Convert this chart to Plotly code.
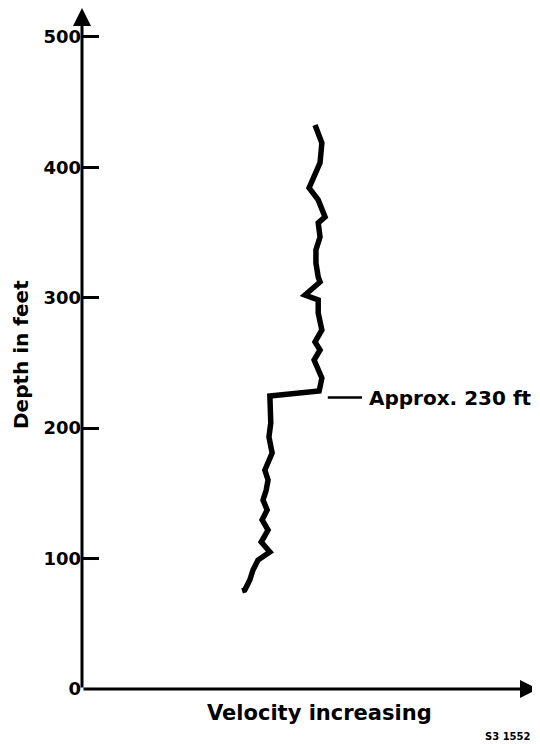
import plotly.graph_objects as go

# Depth (ft) and relative velocity (arbitrary units, 0-100 along the x axis)
depth_ft = [432.5, 418.7, 403.4, 392.6, 384.2, 375.0, 362.0, 357.4, 346.6, 336.7,
            326.7, 315.9, 312.1, 302.1, 298.3, 288.3, 275.3, 266.1, 260.0, 252.3,
            244.6, 238.5, 231.6, 228.5, 224.7,
            211.7, 204.0, 193.3, 181.0, 167.9, 160.3, 152.6, 144.9, 137.3, 129.6,
            121.9, 112.7, 105.1, 98.9, 91.3, 83.6, 75.9, 75.2]
velocity = [51.1, 52.6, 52.2, 50.7, 49.8, 51.8, 53.3, 51.8, 52.2, 51.3,
            51.3, 51.8, 52.2, 48.9, 51.8, 51.8, 52.6, 51.1, 52.2, 50.9,
            51.8, 52.6, 52.2, 52.0, 41.2,
            41.2, 41.4, 41.0, 41.7, 40.1, 40.8, 40.4, 39.7, 40.6, 39.5,
            40.8, 39.3, 41.2, 38.6, 37.5, 36.8, 35.7, 35.1]

ytick_vals = [0, 100, 200, 300, 400, 500]
ytick_text = ["0", "100", "200", "300", "400", "500"]

x_title = "Velocity increasing"
y_title = "Depth in feet"
callout_text = "Approx. 230 ft"
callout_depth = 223.5
callout_x = [53.9, 61.4]
fig_id = "S3 1552"

X_MAX = 100
Y_MAX = 522.2
FONT = "DejaVu Sans, Liberation Sans, Arial, sans-serif"

fig = go.Figure()
fig.add_trace(go.Scatter(
    x=velocity, y=depth_ft, mode="lines",
    line=dict(color="black", width=5.5),
    hoverinfo="skip", showlegend=False,
))

# callout leader line
fig.add_trace(go.Scatter(
    x=callout_x, y=[callout_depth, callout_depth], mode="lines",
    line=dict(color="black", width=2.5),
    hoverinfo="skip", showlegend=False,
))

# page-pixel helpers (the page body adds an 8px offset)
def px(page_x):
    return (page_x - 82) / 456

def py(page_y):
    return (689 - page_y) / 681

annotations = [
    # y axis with arrow
    dict(x=0, y=Y_MAX, ax=0, ay=0, xref="x", yref="y", axref="x", ayref="y",
         text="", showarrow=True, arrowhead=2, arrowsize=1.2, arrowwidth=3,
         arrowcolor="black"),
    # x axis with arrow
    dict(x=X_MAX, y=0, ax=0, ay=0, xref="x", yref="y", axref="x", ayref="y",
         text="", showarrow=True, arrowhead=2, arrowsize=1.2, arrowwidth=3,
         arrowcolor="black"),
    dict(x=62.5, y=callout_depth, xref="x", yref="y",
         xanchor="left", yanchor="middle", showarrow=False,
         text=callout_text,
         font=dict(family=FONT, size=20, color="black", weight="bold")),
    dict(x=px(21), y=py(355), xref="paper", yref="paper",
         xanchor="center", yanchor="middle", showarrow=False, textangle=-90,
         text=y_title,
         font=dict(family=FONT, size=20, color="black", weight="bold")),
    dict(x=px(319), y=py(713), xref="paper", yref="paper",
         xanchor="center", yanchor="middle", showarrow=False,
         text=x_title,
         font=dict(family=FONT, size=21, color="black", weight="bold")),
    dict(x=px(508), y=py(736), xref="paper", yref="paper",
         xanchor="center", yanchor="middle", showarrow=False,
         text=fig_id,
         font=dict(family=FONT, size=10, color="black", weight="bold")),
]

fig.update_layout(
    width=532, height=736,
    margin=dict(l=74, r=2, t=0, b=55),
    paper_bgcolor="white", plot_bgcolor="white",
    showlegend=False,
    annotations=annotations,
    xaxis=dict(range=[0, X_MAX], showgrid=False, zeroline=False, showline=False,
               showticklabels=False, ticks="", fixedrange=True),
    yaxis=dict(range=[0, Y_MAX], showgrid=False, zeroline=False, showline=False,
               tickmode="array", tickvals=ytick_vals, ticktext=ytick_text,
               ticks="inside", ticklen=17, tickwidth=3, tickcolor="black",
               tickfont=dict(family=FONT, size=18, color="black", weight="bold"),
               fixedrange=True),
)

fig.write_html("out.html")
